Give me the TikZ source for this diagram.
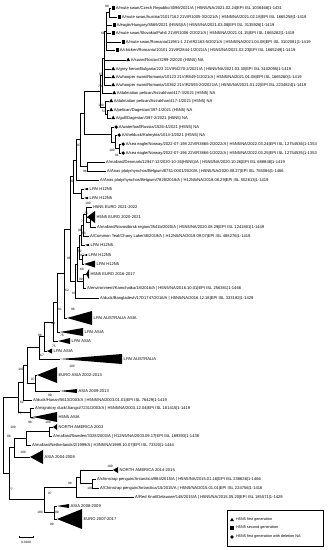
\documentclass[tikz,border=0pt]{standalone}
\usepackage{fontspec}
\setmainfont{Liberation Sans}
\usetikzlibrary{shapes.geometric}
\newcommand\mtip[5]{\coordinate (#1) at (#2,#3);\node[#4] (#1m) at ({#2+2.2},#3) {};\node[lbl] (#1t) at ({#2+4.6},#3) {#5};}
\newcommand\ptip[4]{\coordinate (#1) at (#2,#3);\node[lbl] (#1t) at ({#2+1},#3) {#4};}
\newcommand\ctip[6]{\coordinate (#1) at (#2,#3);\fill (#1) -- (#4,{#3-#5}) -- (#4,{#3+#5}) -- cycle;\node[lbl] (#1t) at ({#4+1.5},#3) {#6};}
\newcommand\inode[3]{\coordinate (#1) at (#2,#3);}
\newcommand\br[2]{\draw (#1) |- (#2);}
\newcounter{bsc}
\newcommand\bs[3]{\stepcounter{bsc}\node[bsv] (bs\arabic{bsc}) at (#1,#2) {#3};}
\begin{document}
\begin{tikzpicture}[x=1pt,y=-1pt, line width=0.45pt,
  lbl/.style={font=\fontsize{4.1}{4.5}\selectfont, inner sep=0pt, anchor=west},
  lgl/.style={font=\fontsize{3.8}{4.2}\selectfont, inner sep=0pt, anchor=west},
  bsv/.style={font=\fontsize{3.2}{3.5}\selectfont, inner sep=0pt},
  sqm/.style={fill, rectangle, minimum size=3.2pt, inner sep=0pt},
  trm/.style={fill, regular polygon, regular polygon sides=3, minimum size=4.6pt, inner sep=0pt},
  cim/.style={fill, circle, minimum size=3.6pt, inner sep=0pt}]
\useasboundingbox (0,0) rectangle (330,550);
\fill[white] (0,0) rectangle (330,550);
% ---------- leaves ----------
\mtip{L1}{111}{8}{sqm}{A/mute swan/Czech Republic/4099/2021/A | H5N5/NA/2021.02.24|EPI ISL 1036468|1-1431}
\mtip{L2}{117}{17}{sqm}{A/mute swan/Austria/21017162 21VIR1005-3/2021/A | H5N5/NA/2021.02.18|EPI ISL 1665258|1-1419}
\mtip{L3}{112}{25}{sqm}{A/eagle/Hungary/8569/2021 (H5N5)/A | H5N5/NA/2021.03.08|EPI ISL 3135926|1-1419}
\mtip{L4}{111}{33}{sqm}{A/mute swan/Slovakia/Pah6 21VIR1006-2/2021/A | H5N5/NA/2021.01.15|EPI ISL 1665262|1-1419}
\mtip{L5}{121}{42}{sqm}{A/mute swan/Romania/11981-1 21VIR2163-5/2021/A | H5N5/NA/2021.04.08|EPI ISL 3102081|1-1419}
\mtip{L6}{115}{50}{sqm}{A/chicken/Romania/10101 21VIR2844-1/2021/A | H5N5/NA/2021.02.23|EPI ISL 1665249|1-1419}
\mtip{L7}{126}{60}{trm}{A/swan/Rostov/3299-2/2020 (H5N5) NA}
\mtip{L8}{111}{69}{trm}{A/grey heron/Bulgaria/223 21VIR4270-2/2021/A | H5N5/NA/2021.03.30|EPI ISL 3102095|1-1419}
\mtip{L9}{111}{77}{trm}{A/whooper swan/Romania/10123 21VIR849-1/2021/A | H5N5/NA/2021.01.08|EPI ISL 1665260|1-1419}
\mtip{L10}{111}{85}{trm}{A/whooper swan/Romania/10362 21VIR2593-20/2021/A | H5N5/NA/2021.01.22|EPI ISL 2234824|1-1419}
\mtip{L11}{112}{93}{trm}{A/dalmatian pelican/Astrakhan/417-3/2021 (H5N5) NA}
\mtip{L12}{109}{101}{trm}{A/dalmatian pelican/Astrakhan/417-1/2021 (H5N5) NA}
\mtip{L13}{109}{110}{trm}{A/pelican/Dagestan/397-1/2021 (H5N5) NA}
\mtip{L14}{111}{118}{trm}{A/gull/Dagestan/397-2/2021 (H5N5) NA}
\mtip{L15}{114}{127}{cim}{A/waterfowl/Russia/1526-4/2021 (H5N5) NA}
\mtip{L16}{117}{135}{cim}{A/shelduck/Kalmykia/1014-1/2021 (H5N5) NA}
\mtip{L17}{121}{144}{cim}{A/sea eagle/Norway/2022-07-198 22VIR3866-2/2022/A | H5N5/NA/2022.03.24|EPI ISL 12754536|1-1353}
\mtip{L18}{121}{153}{cim}{A/sea eagle/Norway/2022-07-196 22VIR3866-1/2022/A | H5N5/NA/2022.03.25|EPI ISL 12754535|1-1353}
\ptip{L19}{105}{162}{A/mallard/Denmark/12947-12/2020-10-26(H5N5)/A | H5N5/NA/2020.10.26|EPI ISL 688848|1-1419}
\ptip{L20}{106}{171}{A/Anas platyrhynchos/Belgium/8751-0001/2020/A | H5N5/NA/2020.08.27|EPI ISL 755086|1-1466}
\ptip{L21}{99}{180}{A/Anas platyrhynchos/Belgium/7828/2018/A | H12N5/NA/2018.08.29|EPI ISL 502613|1-1419}
\ctip{L22}{84}{189}{88}{1.2}{LPAI H12N5}
\ctip{L23}{84}{198}{88}{1.2}{LPAI H12N5}
\ptip{L24}{92}{207}{H5N5 EURO 2021-2022}
\ctip{L25}{87}{217}{95}{6}{H5N5 EURO 2020-2021}
\ptip{L26}{96}{227}{A/mallard/Novosibirsk region/3541b/2020/A | H5N5/NA/2020.08.29|EPI ISL 1241801|1-1449}
\ptip{L27}{89}{236}{A/Common Teal/Chany Lake/48/2019/A | H12N5/NA/2019.09.07|EPI ISL 488276|1-1419}
\ctip{L28}{85}{245}{89}{1.2}{LPAI H12N5}
\ctip{L29}{84}{255}{87}{1}{LPAI H12N5}
\ctip{L30}{84}{264}{95}{3.5}{LPAI H12N5}
\ctip{L31}{86}{274}{89}{5}{H5N5 EURO 2016-2017}
\ptip{L32}{86}{288}{A/environment/Kamchatka/18/2016/A | H5N5/NA/2016.10.01|EPI ISL 256381|1-1466}
\ptip{L33}{99}{298}{A/duck/Bangladesh/17D1747/2016/A | H5N5/NA/2016.12.18|EPI ISL 333182|1-1429}
\ctip{L34}{67}{318}{92}{7}{LPAI AUSTRALIA ASIA}
\ctip{L35}{60}{332}{83}{4}{LPAI ASIA}
\ctip{L36}{58}{341}{70}{3}{LPAI ASIA}
\ctip{L37}{47}{351}{52}{2.5}{LPAI ASIA}
\ctip{L38}{60}{359}{122}{5}{LPAI AUSTRALIA}
\ctip{L39}{37}{375}{57}{8}{EURO ASIA 2002-2013}
\ctip{L40}{60}{391}{77}{2}{ASIA 2009-2013}
\ptip{L41}{32}{400}{A/duck/Hunan/5613/2003/A | H5N5/NA/2003.01.01|EPI ISL 76429|1-1419}
\ptip{L42}{34}{408}{A/migratory duck/Jiangxi/7231/2003/A | H5N5/NA/2003.12.04|EPI ISL 181415|1-1419}
\ctip{L43}{33}{417}{57}{5}{H5N5 ASIA}
\ctip{L44}{53}{427}{57}{3}{NORTH AMERICA 2003}
\ptip{L45}{52}{436}{A/mallard/Sweden/3328/2003/A | H12N5/NA/2003.09.17|EPI ISL 189393|1-1438}
\ptip{L46}{31}{445}{A/mallard/Netherlands/2/1999/A | H3N5/NA/1999.10.07|EPI ISL 73320|1-1444}
\ctip{L47}{30}{457}{43}{7}{ASIA 2004-2008}
\ctip{L48}{113}{470}{118}{3}{NORTH AMERICA 2014-2015}
\ptip{L49}{96}{479}{A/chinstrap penguin/Antarctica/984/2015/A | H5N5/NA/2015.01.16|EPI ISL 238636|1-1466}
\ptip{L50}{99}{488}{A/Chinstrap penguin/Antarctica/15/2015/A | H5N5/NA/2015.01.01|EPI ISL 224756|1-1416}
\ptip{L51}{134}{497}{A/Red Knot/Delaware/148/2015/A | H5N5/NA/2015.05.20|EPI ISL 185571|1-1429}
\ctip{L52}{57}{506}{69}{2}{ASIA 2008-2009}
\ctip{L53}{57}{519}{82}{10}{EURO 2007-2017}
% ---------- internal nodes ----------
\inode{nA}{109}{12.5}\inode{nB}{106}{31.25}\inode{nC}{104}{58.1}\inode{nD}{102.5}{75.6}
\inode{nE}{107}{114}\inode{nF}{105}{107.5}\inode{nG}{100}{91.5}
\inode{nH}{119}{148.5}\inode{nI}{115}{141.75}\inode{nJ}{111}{134.4}
\inode{nK}{84}{112.9}\inode{nL}{87}{166.5}\inode{nM}{80}{139.7}\inode{nN}{76}{159.9}
\inode{nQ}{81}{193.5}\inode{nP}{73}{176.7}
\inode{E1}{90}{222}\inode{E2}{86}{214.5}\inode{E3}{83.5}{225.25}\inode{E4}{81.5}{235.1}
\inode{E5}{82.5}{259.5}\inode{E6}{79}{247.3}\inode{E7}{83}{281}\inode{E8}{77}{264.2}
\inode{E9}{75}{281.1}\inode{E10}{70}{228.9}\inode{E11}{64}{273.4}\inode{E12}{57}{302.7}
\inode{E13}{53}{321.9}\inode{E14}{44}{336.4}\inode{E15}{39}{347.7}
\inode{G1}{35}{383}\inode{E16}{27}{365.4}\inode{G2}{23}{382.7}\inode{H1}{30}{412.5}\inode{G3}{18}{397.6}
\inode{N1}{49}{431.5}\inode{N2}{26}{438.25}\inode{N3}{14}{447.6}
\inode{C1}{92}{483.5}\inode{C2}{80}{476.75}\inode{C3}{76}{486.9}\inode{C4}{54}{512.5}\inode{C5}{44}{499.7}
\inode{N4}{9}{473.7}\inode{R}{3}{435.6}
% ---------- branches ----------
\br{nA}{L1}\br{nA}{L2}
\br{nB}{nA}\br{nB}{L3}\br{nB}{L4}\br{nB}{L5}\br{nB}{L6}
\br{nC}{nB}\br{nC}{L7}\br{nC}{L8}\br{nC}{L9}\br{nC}{L10}
\br{nD}{nC}\br{nD}{L11}
\br{nE}{L13}\br{nE}{L14}\br{nF}{L12}\br{nF}{nE}
\br{nG}{nD}\br{nG}{nF}
\br{nH}{L17}\br{nH}{L18}\br{nI}{L16}\br{nI}{nH}\br{nJ}{L15}\br{nJ}{nI}
\br{nK}{nG}\br{nK}{nJ}
\br{nL}{L19}\br{nL}{L20}
\br{nM}{nK}\br{nM}{nL}
\br{nN}{nM}\br{nN}{L21}
\br{nQ}{L22}\br{nQ}{L23}
\br{nP}{nN}\br{nP}{nQ}
\br{E1}{L25}\br{E1}{L26}\br{E2}{L24}\br{E2}{E1}
\br{E3}{E2}\br{E3}{L27}\br{E4}{E3}\br{E4}{L28}
\br{E5}{L29}\br{E5}{L30}\br{E6}{E4}\br{E6}{E5}
\br{E7}{L31}\br{E7}{L32}\br{E8}{E6}\br{E8}{E7}
\br{E9}{E8}\br{E9}{L33}\br{E10}{nP}\br{E10}{E9}
\br{E11}{E10}\br{E11}{L34}\br{E12}{E11}\br{E12}{L35}
\br{E13}{E12}\br{E13}{L36}\br{E14}{E13}\br{E14}{L37}
\br{E15}{E14}\br{E15}{L38}
\br{G1}{L39}\br{G1}{L40}\br{E16}{E15}\br{E16}{G1}
\br{G2}{E16}\br{G2}{L41}\br{H1}{L42}\br{H1}{L43}\br{G3}{G2}\br{G3}{H1}
\br{N1}{L44}\br{N1}{L45}\br{N2}{N1}\br{N2}{L46}\br{N3}{N2}\br{N3}{L47}
\br{C1}{L49}\br{C1}{L50}\br{C2}{L48}\br{C2}{C1}\br{C3}{C2}\br{C3}{L51}
\br{C4}{L52}\br{C4}{L53}\br{C5}{C3}\br{C5}{C4}
\br{N4}{N3}\br{N4}{C5}\br{R}{G3}\br{R}{N4}
% ---------- bootstrap values ----------
\bs{107}{6}{98}\bs{103}{33}{68}\bs{101}{74}{67}\bs{100}{86}{70}\bs{101}{105}{100}\bs{104}{111}{53}
\bs{112}{150}{100}\bs{117}{155}{91}\bs{79}{145}{97}\bs{85}{171}{98}\bs{72}{181}{90}
\bs{88}{203}{100}\bs{86}{213}{76}\bs{83}{221}{71}\bs{80}{230}{98}\bs{84}{233}{83}
\bs{80}{251}{52}\bs{82}{255}{97}\bs{69}{258}{96}\bs{82}{269}{68}\bs{81}{279}{99}
\bs{67}{290}{62}\bs{74}{293}{63}\bs{73}{309}{98}\bs{60}{309}{91}\bs{53}{323}{99}
\bs{62}{335}{76}\bs{40}{335}{98}\bs{54}{346}{75}\bs{42}{355}{67}\bs{72}{366}{100}
\bs{21}{369}{100}\bs{33}{379}{87}\bs{50}{395}{99}\bs{22}{402}{62}\bs{20}{413}{77}
\bs{33}{418}{64}\bs{30}{422}{98}\bs{48}{422}{100}\bs{13}{427}{100}\bs{9}{436}{88}
\bs{23}{452}{100}\bs{110}{466}{100}\bs{70}{483}{99}\bs{90}{488}{100}\bs{50}{493}{97}
\bs{11}{489}{77}\bs{40}{512}{100}\bs{57}{512}{99}\bs{52}{524}{99}
% ---------- scale bar ----------
\coordinate (sbL) at (19,537);\coordinate (sbR) at (33,537);
\draw (sbL) -- (sbR);
\draw (19,535.6) -- (19,538.4);\draw (33,535.6) -- (33,538.4);
\node[bsv] (sbt) at (26,542) {0.0100};
% ---------- legend ----------
\draw[line width=0.8pt] (227,510) rectangle (323,546);
\node[trm] (lg1m) at (232,520) {};\node[lgl] (lg1) at (236,520) {H5N5 first generation};
\node[sqm] (lg2m) at (232,528) {};\node[lgl] (lg2) at (236,528) {H5N5 second generation};
\node[cim] (lg3m) at (232,537) {};\node[lgl] (lg3) at (236,537) {H5N5 first generation with deletion NA};
\end{tikzpicture}
\end{document}
